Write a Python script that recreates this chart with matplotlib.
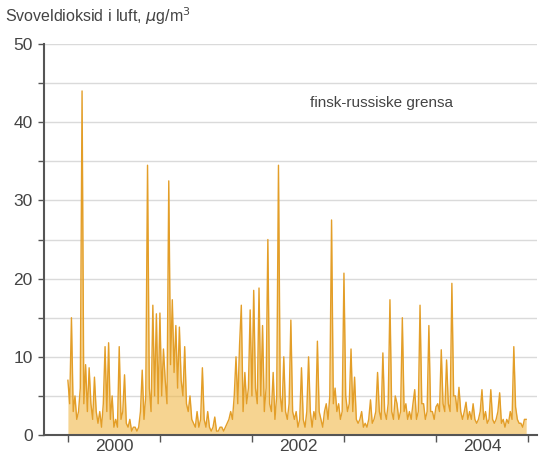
import numpy as np
import matplotlib

matplotlib.use("Agg")
import matplotlib.pyplot as plt

# weekly SO2 values (ug/m3), one list per year
so2_2000 = [7, 4, 15, 3, 5, 2, 3, 6, 44, 4, 9, 3, 8.6, 4, 2, 7.4, 3, 1.5, 3, 1,
            4, 11.3, 3, 11.8, 2, 5, 1, 2, 1, 11.3, 2, 3, 7.7, 1.5, 1, 2, 0.5, 1,
            1, 0.5, 1, 3, 8.3, 2, 5, 34.5, 6, 3, 16.6, 5, 15.5, 4]
so2_2001 = [15.6, 5, 11, 7, 4, 32.5, 9, 17.3, 8, 14, 6, 13.8, 7, 5, 11.3, 4, 3,
            5, 2, 1.5, 1, 3, 1, 2, 8.6, 2, 1, 3, 1, 0.5, 1, 2.3, 0.5, 0.5, 1, 1,
            0.5, 1, 1.5, 2, 3, 2, 5, 10, 4, 11.5, 16.6, 3, 8, 4, 6, 16]
so2_2002 = [5, 18.5, 6, 4, 18.8, 5, 14, 3, 6, 25, 4, 3, 8, 2, 5, 34.5, 5, 3, 10,
            3, 2, 4, 14.7, 3, 2, 3, 1, 2, 8.6, 2, 1, 3, 10, 3, 1, 3, 2, 12, 3, 2,
            1, 3, 4, 2, 5, 27.5, 4, 6, 3, 4, 2, 3]
so2_2003 = [20.7, 5, 3, 4, 11, 3, 7.4, 2, 1.5, 2, 3, 1, 1.5, 1, 2, 4.5, 1.5, 2,
            3, 8, 3, 2, 10.5, 3, 2, 4, 17.3, 3, 2, 5, 4, 2, 3, 15, 3, 4, 2, 3, 2,
            4, 5.8, 2, 3, 16.6, 4, 4, 2, 3, 14, 3, 3, 2]
so2_2004 = [3.6, 4, 3, 10.9, 4, 3, 9.6, 4, 3, 19.4, 5, 5, 3, 6.1, 3, 2, 3, 4.2,
            2, 3, 2, 4, 2, 1.5, 2, 3, 5.8, 2, 3, 1.5, 2, 5.8, 2, 1.5, 2, 3, 5.4,
            1.5, 2, 1, 2, 1.5, 3, 2, 11.3, 3.6, 2, 1.5, 1.5, 1, 2, 2]

years = [2000, 2001, 2002, 2003, 2004]
series = [so2_2000, so2_2001, so2_2002, so2_2003, so2_2004]

t = np.concatenate([yr + np.arange(len(v)) / len(v) for yr, v in zip(years, series)])
y = np.concatenate([np.array(v, dtype=float) for v in series])

plt.rcParams["font.family"] = ["Liberation Sans Narrow", "Liberation Sans", "DejaVu Sans"]

fig = plt.figure(figsize=(5.39, 4.66), dpi=100)
ax = fig.add_axes([0.0816, 0.0665, 0.915, 0.839])

ax.fill_between(t, 0, y, color="#F0B848", alpha=0.6, linewidth=0, zorder=2)
ax.plot(t, y, color="#E39E28", linewidth=1.0, zorder=3)

ax.set_xlim(1999.74, 2005.1)
ax.set_ylim(0, 50)

ax.set_yticks(np.arange(0, 51, 10))
ax.set_yticks(np.arange(5, 50, 10), minor=True)
ax.yaxis.grid(True, which="both", color="#DADADA", linewidth=1.0, zorder=0)
ax.set_axisbelow(True)

ax.set_xticks(range(2000, 2006))
ax.set_xticklabels([])
ax.set_xticks([2000.5, 2002.5, 2004.5], minor=True)
ax.set_xticklabels(["2000", "2002", "2004"], minor=True)

ax.tick_params(axis="y", which="both", length=4, width=1, color="#555555",
               labelsize=12.5, labelcolor="#444444", pad=4)
ax.tick_params(axis="x", which="major", length=5, width=1, color="#555555")
ax.tick_params(axis="x", which="minor", length=0, labelsize=12.5,
               labelcolor="#444444", pad=3)

for s in ["top", "right"]:
    ax.spines[s].set_visible(False)
ax.spines["left"].set_color("#555555")
ax.spines["left"].set_linewidth(1.5)
ax.spines["bottom"].set_color("#555555")
ax.spines["bottom"].set_linewidth(1.5)

fig.text(0.01, 0.966, r"Svoveldioksid i luft, $\mu$g/m$^3$", fontsize=11.5,
         color="#444444", va="center", ha="left")
ax.text(2002.63, 42.5, "finsk-russiske grensa", fontsize=11,
        color="#444444", va="center", ha="left")

plt.savefig("out.png", dpi=100)
